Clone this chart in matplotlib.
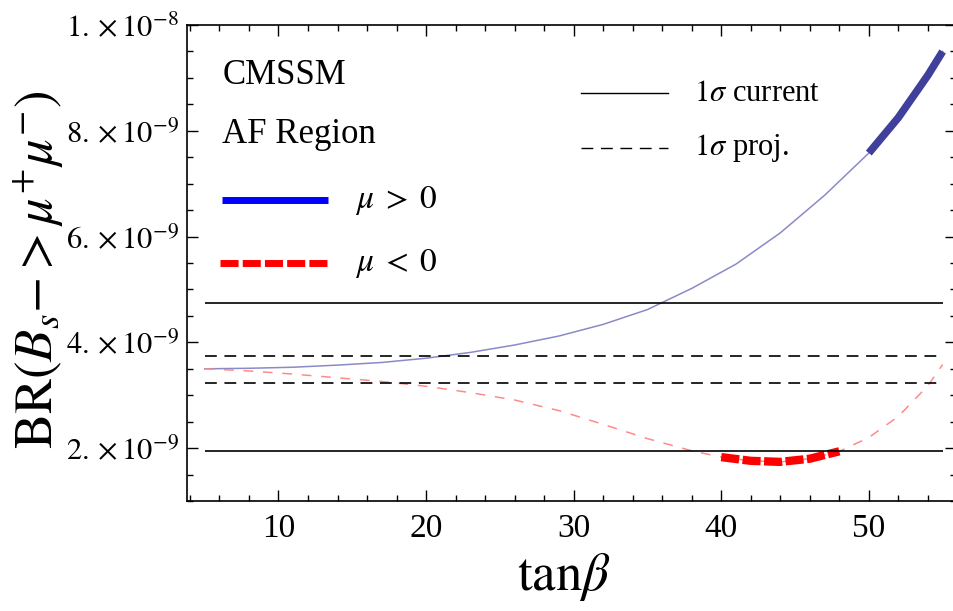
import matplotlib
matplotlib.use('Agg')
import matplotlib.pyplot as plt
import numpy as np
from matplotlib.ticker import MultipleLocator

plt.rcParams['font.family'] = ['Liberation Serif', 'DejaVu Serif']
plt.rcParams['mathtext.fontset'] = 'stix'
plt.rcParams['lines.scale_dashes'] = False

# tan(beta) samples, BR in units of 1e-9
tanb_pos = [5, 8, 11, 14, 17, 20, 23, 26, 29, 32, 35, 38, 41, 44, 47, 50, 52, 54, 55]
br_pos = [3.50, 3.51, 3.53, 3.57, 3.62, 3.70, 3.81, 3.95, 4.12, 4.34, 4.62,
          5.02, 5.48, 6.07, 6.78, 7.58, 8.25, 9.05, 9.50]

tanb_neg = [5, 8, 11, 14, 17, 20, 23, 26, 29, 32, 35, 38, 40, 42, 44, 46, 48,
            50, 52, 54, 55]
br_neg = [3.50, 3.46, 3.40, 3.33, 3.26, 3.17, 3.05, 2.91, 2.71, 2.45, 2.18,
          1.95, 1.83, 1.76, 1.74, 1.80, 1.94, 2.20, 2.60, 3.18, 3.58]

# allowed (thick) ranges
pos_allowed = (50, 55)
neg_allowed = (40, 48)

# 1 sigma bands
current_1s = [1.95, 4.75]
proj_1s = [3.24, 3.75]

ytick_vals = [2, 4, 6, 8, 10]
ytick_labels = [r'$2.\times10^{-9}$', r'$4.\times10^{-9}$', r'$6.\times10^{-9}$',
                r'$8.\times10^{-9}$', r'$1.\times10^{-8}$']

scale = 1e-9
tanb_pos = np.array(tanb_pos)
tanb_neg = np.array(tanb_neg)
br_pos = np.array(br_pos) * scale
br_neg = np.array(br_neg) * scale

fig = plt.figure(figsize=(9.54, 6.11), dpi=100)
ax = fig.add_axes([0.196, 0.180, 0.806, 0.779])

# thin full curves
ax.plot(tanb_pos, br_pos, color='#8a8ac8', lw=1.1)
ax.plot(tanb_neg, br_neg, color='#ff8a8a', lw=1.1, dashes=(7, 7))

# thick allowed parts
m = (tanb_pos >= pos_allowed[0]) & (tanb_pos <= pos_allowed[1])
ax.plot(tanb_pos[m], br_pos[m], color='#3f3f9c', lw=5.5, solid_capstyle='butt')
m = (tanb_neg >= neg_allowed[0]) & (tanb_neg <= neg_allowed[1])
ax.plot(tanb_neg[m], br_neg[m], color='red', lw=6, dashes=(13, 2.5),
        dash_capstyle='butt')

# 1 sigma lines
for v in current_1s:
    ax.hlines(v * scale, 5, 55, color='black', lw=1.2)
for v in proj_1s:
    ax.hlines(v * scale, 5, 55, color='black', lw=1.2, linestyles=[(0, (8.5, 5.5))])

ax.set_xlim(3.8, 55.9)
ax.set_ylim(1e-9, 1e-8)

ax.xaxis.set_major_locator(MultipleLocator(10))
ax.xaxis.set_minor_locator(MultipleLocator(2))
ax.set_yticks([v * scale for v in ytick_vals])
ax.set_yticklabels(ytick_labels)
ax.yaxis.set_minor_locator(MultipleLocator(0.5e-9))

ax.tick_params(which='both', direction='in', top=True, right=True, width=1.0)
ax.tick_params(which='major', length=8)
ax.tick_params(which='minor', length=4.5)
ax.tick_params(axis='x', labelsize=24, pad=9)
ax.tick_params(axis='y', labelsize=22, pad=6)
for s in ax.spines.values():
    s.set_linewidth(1.2)

ax.set_xlabel(r'$\mathrm{tan}\beta$', fontsize=38)
ax.xaxis.set_label_coords(0.49, -0.105)
ax.set_ylabel(r'$\mathrm{BR}(B_s{-}{>}\mu^{+}\mu^{-})$', fontsize=38)
ax.yaxis.set_label_coords(-0.157, 0.485)

# annotations
tr = ax.transAxes
ax.text(0.046, 0.893, 'CMSSM', fontsize=25, transform=tr, va='center')
ax.text(0.046, 0.769, 'AF Region', fontsize=25, transform=tr, va='center')

ax.plot([0.0456, 0.1836], [0.632, 0.632], transform=tr, color='blue', lw=5,
        solid_capstyle='butt')
ax.plot([0.043, 0.1836], [0.500, 0.500], transform=tr, color='red', lw=5,
        dashes=(13, 3), dash_capstyle='butt')
ax.text(0.219, 0.632, r'$\mu\;>\;0$', fontsize=24, transform=tr, va='center')
ax.text(0.219, 0.500, r'$\mu\;<\;0$', fontsize=24, transform=tr, va='center')

ax.plot([0.512, 0.626], [0.857, 0.857], transform=tr, color='black', lw=1.0)
ax.plot([0.512, 0.626], [0.742, 0.742], transform=tr, color='black', lw=1.0,
        dashes=(8.5, 5.5))
ax.text(0.659, 0.857, r'$1\sigma$ current', fontsize=22, transform=tr, va='center')
ax.text(0.659, 0.742, r'$1\sigma$ proj.', fontsize=22, transform=tr, va='center')

fig.savefig('out.png', dpi=100)
